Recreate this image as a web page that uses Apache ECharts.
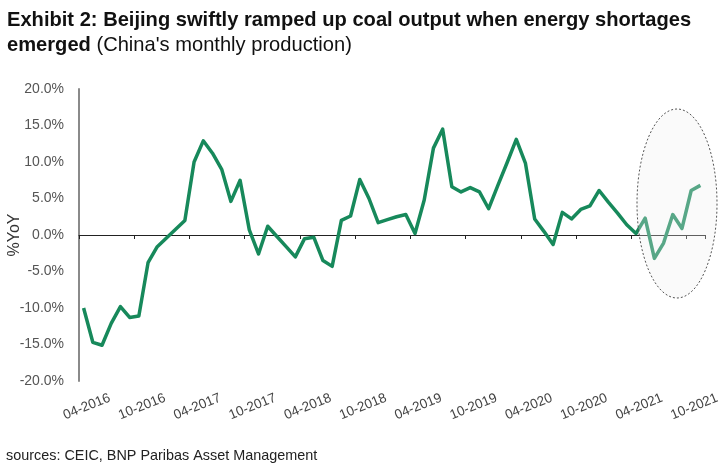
<!DOCTYPE html>
<html>
<head>
<meta charset="utf-8">
<script src="https://cdn.jsdelivr.net/npm/echarts@6/dist/echarts.min.js"></script>
<style>html,body{margin:0;padding:0;background:#fff;}#c{width:725px;height:470px;}</style>
</head>
<body>
<div id="c"></div>
<script>
var categories = [
 '04-2016','05-2016','06-2016','07-2016','08-2016','09-2016','10-2016','11-2016','12-2016',
 '01-2017','02-2017','03-2017','04-2017','05-2017','06-2017','07-2017','08-2017','09-2017','10-2017','11-2017','12-2017',
 '01-2018','02-2018','03-2018','04-2018','05-2018','06-2018','07-2018','08-2018','09-2018','10-2018','11-2018','12-2018',
 '01-2019','02-2019','03-2019','04-2019','05-2019','06-2019','07-2019','08-2019','09-2019','10-2019','11-2019','12-2019',
 '01-2020','02-2020','03-2020','04-2020','05-2020','06-2020','07-2020','08-2020','09-2020','10-2020','11-2020','12-2020',
 '01-2021','02-2021','03-2021','04-2021','05-2021','06-2021','07-2021','08-2021','09-2021','10-2021','11-2021'
];
var coalYoY = [
 -10.0,-14.7,-15.1,-12.1,-9.8,-11.3,-11.1,-3.8,-1.6,
 -0.4,0.8,2.0,10.0,12.9,11.2,9.0,4.6,7.5,0.7,-2.6,1.2,
 -0.2,-1.6,-3.0,-0.5,-0.3,-3.5,-4.3,2.0,2.6,7.6,5.0,1.7,
 2.1,2.5,2.8,0.2,4.8,11.9,14.5,6.6,5.9,6.5,5.9,3.6,
 6.8,9.9,13.1,9.8,2.2,0.5,-1.3,3.1,2.2,3.5,4.0,6.1,
 4.5,3.0,1.4,0.2,2.3,-3.2,-1.1,2.8,0.9,6.1,6.8
];
var yTicks = {min: -20, max: 20, step: 5};

var FONT = 'Liberation Sans, Arial, sans-serif';
var chart = echarts.init(document.getElementById('c'), null, {renderer: 'canvas'});
chart.setOption({
  animation: false,
  backgroundColor: '#fff',
  grid: {left: 79, right: 20, top: 89, bottom: 89, containLabel: false, outerBoundsMode: 'none'},
  xAxis: [{
    type: 'category', data: categories, boundaryGap: true,
    axisLine: {show: false, onZero: false},
    axisTick: {show: false},
    axisLabel: {
      interval: 5, rotate: 22, align: 'center', verticalAlign: 'middle', margin: 27,
      padding: [0, 0, 0, 7],
      fontFamily: FONT, fontSize: 13.5, color: '#444'
    }
  }, {
    type: 'category', data: categories, boundaryGap: true, position: 'bottom',
    axisLine: {show: true, onZero: true, lineStyle: {color: '#222', width: 1}},
    axisTick: {show: true, interval: 5, length: 4, lineStyle: {color: '#222', width: 1}},
    axisLabel: {show: false}
  }],
  yAxis: {
    type: 'value', min: yTicks.min, max: yTicks.max, interval: yTicks.step,
    name: '%YoY', nameLocation: 'middle', nameGap: 56, nameRotate: 90, nameMoveOverlap: false,
    nameTextStyle: {fontFamily: FONT, fontSize: 16, color: '#333'},
    axisLine: {show: true, onZero: false, lineStyle: {color: '#8a8a8a', width: 2}},
    axisTick: {show: false},
    splitLine: {show: false},
    axisLabel: {
      margin: 15, fontFamily: FONT, fontSize: 14, color: '#555',
      formatter: function (v) { return v.toFixed(1) + '%'; }
    }
  },
  series: [{
    type: 'line', xAxisIndex: 0, data: coalYoY, showSymbol: false, symbol: 'none',
    lineStyle: {color: '#17895b', width: 3.5, join: 'round'}, z: 3
  }],
  graphic: [{
    type: 'ellipse', z: 100,
    shape: {cx: 677, cy: 203.5, rx: 40, ry: 94.5},
    style: {fill: 'rgba(238,238,238,0.3)', stroke: '#555', lineWidth: 1, lineDash: [2, 2]}
  }, {
    type: 'text', x: 7, y: 8, scaleX: 0.958, z: 50,
    style: {
      text: '{b|Exhibit 2: Beijing swiftly ramped up coal output when energy shortages}\n{b|emerged}{n| (China\'s monthly production)}',
      rich: {
        b: {fontFamily: FONT, fontWeight: 'bold', fontSize: 21, fill: '#111', lineHeight: 25},
        n: {fontFamily: FONT, fontWeight: 'normal', fontSize: 21, fill: '#111', lineHeight: 25}
      }
    }
  }, {
    type: 'text', x: 6, y: 448, scaleX: 0.96,
    style: {text: 'sources: CEIC, BNP Paribas Asset Management', fontFamily: FONT, fontSize: 15, fill: '#222'}
  }]
});
</script>
</body>
</html>
